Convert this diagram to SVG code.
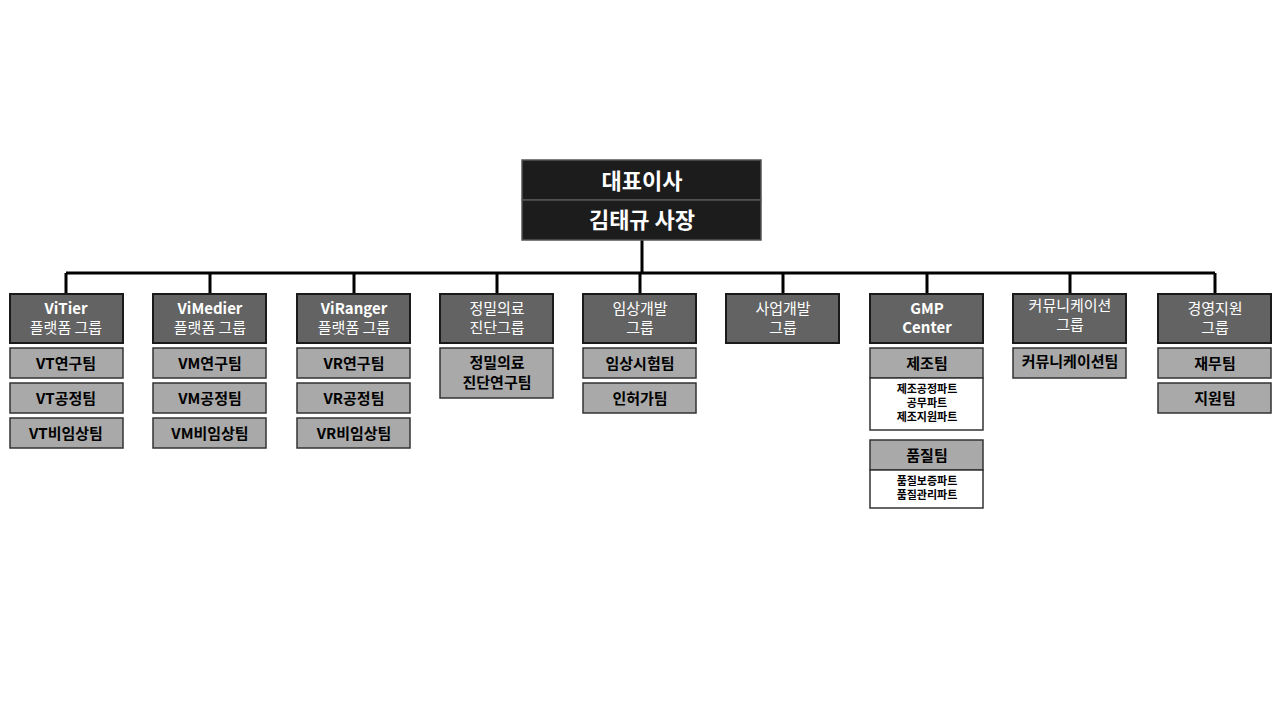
<svg xmlns="http://www.w3.org/2000/svg" width="1280" height="720" viewBox="0 0 1280 720">
<style>
text{font-family:"Noto Sans CJK KR","Noto Sans",sans-serif;text-anchor:middle}
.top{fill:#1c1c1c;stroke:#555;stroke-width:1.5}
.tt{fill:#fff;font-size:22px;font-weight:bold}
.g{fill:#636363;stroke:#1a1a1a;stroke-width:2}
.gt{fill:#fff;font-size:15px}
.s{fill:#a9a9a9;stroke:#333;stroke-width:1.5}
.st{fill:#000;font-size:15px;font-weight:bold}
.w{fill:#fff;stroke:#333;stroke-width:1.5}
.wt{fill:#000;font-size:11px;font-weight:bold}
.c{stroke:#000;stroke-width:3;fill:none}
</style>
<g id="connectors">
<path class="c" d="M642 240V273M66 273H1215M66 273V294M210 273V294M354 273V294M497 273V294M640 273V294M783 273V294M927 273V294M1070 273V294M1215 273V294"/>
</g>
<g id="ceo">
<rect class="top" x="522" y="160" width="239" height="40"/>
<rect class="top" x="522" y="200" width="239" height="40"/>
<text class="tt" x="642" y="189">대표이사</text>
<text class="tt" x="642" y="228">김태규 사장</text>
</g>
<g id="vitier">
<rect class="g" x="10" y="294" width="113" height="49"/>
<text class="gt" x="66" y="314" font-weight="bold">ViTier</text><text class="gt" x="66" y="333">플랫폼 그룹</text>
<rect class="s" x="10" y="348" width="113" height="30"/><text class="st" x="66" y="369">VT연구팀</text>
<rect class="s" x="10" y="383" width="113" height="30"/><text class="st" x="66" y="404">VT공정팀</text>
<rect class="s" x="10" y="418" width="113" height="30"/><text class="st" x="66" y="439">VT비임상팀</text>
</g>
<g id="vimedier">
<rect class="g" x="153" y="294" width="113" height="49"/>
<text class="gt" x="210" y="314" font-weight="bold">ViMedier</text><text class="gt" x="210" y="333">플랫폼 그룹</text>
<rect class="s" x="153" y="348" width="113" height="30"/><text class="st" x="210" y="369">VM연구팀</text>
<rect class="s" x="153" y="383" width="113" height="30"/><text class="st" x="210" y="404">VM공정팀</text>
<rect class="s" x="153" y="418" width="113" height="30"/><text class="st" x="210" y="439">VM비임상팀</text>
</g>
<g id="viranger">
<rect class="g" x="297" y="294" width="113" height="49"/>
<text class="gt" x="354" y="314" font-weight="bold">ViRanger</text><text class="gt" x="354" y="333">플랫폼 그룹</text>
<rect class="s" x="297" y="348" width="113" height="30"/><text class="st" x="354" y="369">VR연구팀</text>
<rect class="s" x="297" y="383" width="113" height="30"/><text class="st" x="354" y="404">VR공정팀</text>
<rect class="s" x="297" y="418" width="113" height="30"/><text class="st" x="354" y="439">VR비임상팀</text>
</g>
<g id="precision">
<rect class="g" x="440" y="294" width="113" height="49"/>
<text class="gt" x="497" y="314">정밀의료</text><text class="gt" x="497" y="333">진단그룹</text>
<rect class="s" x="440" y="348" width="113" height="50"/>
<text class="st" x="497" y="368" font-weight="normal">정밀의료</text><text class="st" x="497" y="388" font-weight="normal">진단연구팀</text>
</g>
<g id="clinical">
<rect class="g" x="583" y="294" width="113" height="49"/>
<text class="gt" x="640" y="314">임상개발</text><text class="gt" x="640" y="333">그룹</text>
<rect class="s" x="583" y="348" width="113" height="30"/><text class="st" x="640" y="369" font-weight="normal">임상시험팀</text>
<rect class="s" x="583" y="383" width="113" height="30"/><text class="st" x="640" y="404" font-weight="normal">인허가팀</text>
</g>
<g id="bizdev">
<rect class="g" x="726" y="294" width="113" height="49"/>
<text class="gt" x="783" y="314">사업개발</text><text class="gt" x="783" y="333">그룹</text>
</g>
<g id="gmp">
<rect class="g" x="870" y="294" width="113" height="49"/>
<text class="gt" x="927" y="314" font-weight="bold">GMP</text><text class="gt" x="927" y="333" font-weight="bold">Center</text>
<rect class="s" x="870" y="348" width="113" height="30"/><text class="st" x="927" y="369" font-weight="normal">제조팀</text>
<rect class="w" x="870" y="378" width="113" height="52"/>
<text class="wt" x="927" y="393">제조공정파트</text><text class="wt" x="927" y="407">공무파트</text><text class="wt" x="927" y="421">제조지원파트</text>
<rect class="s" x="870" y="440" width="113" height="30"/><text class="st" x="927" y="461" font-weight="normal">품질팀</text>
<rect class="w" x="870" y="470" width="113" height="38"/>
<text class="wt" x="927" y="485">품질보증파트</text><text class="wt" x="927" y="499">품질관리파트</text>
</g>
<g id="comm">
<rect class="g" x="1013" y="294" width="113" height="49"/>
<text class="gt" x="1070" y="311">커뮤니케이션</text><text class="gt" x="1070" y="330">그룹</text>
<rect class="s" x="1013" y="348" width="113" height="30"/><text class="st" x="1070" y="367" font-size="12">커뮤니케이션팀</text>
</g>
<g id="mgmt">
<rect class="g" x="1158" y="294" width="113" height="49"/>
<text class="gt" x="1215" y="314">경영지원</text><text class="gt" x="1215" y="333">그룹</text>
<rect class="s" x="1158" y="348" width="113" height="30"/><text class="st" x="1215" y="369" font-weight="normal">재무팀</text>
<rect class="s" x="1158" y="383" width="113" height="30"/><text class="st" x="1215" y="404" font-weight="normal">지원팀</text>
</g>
</svg>
